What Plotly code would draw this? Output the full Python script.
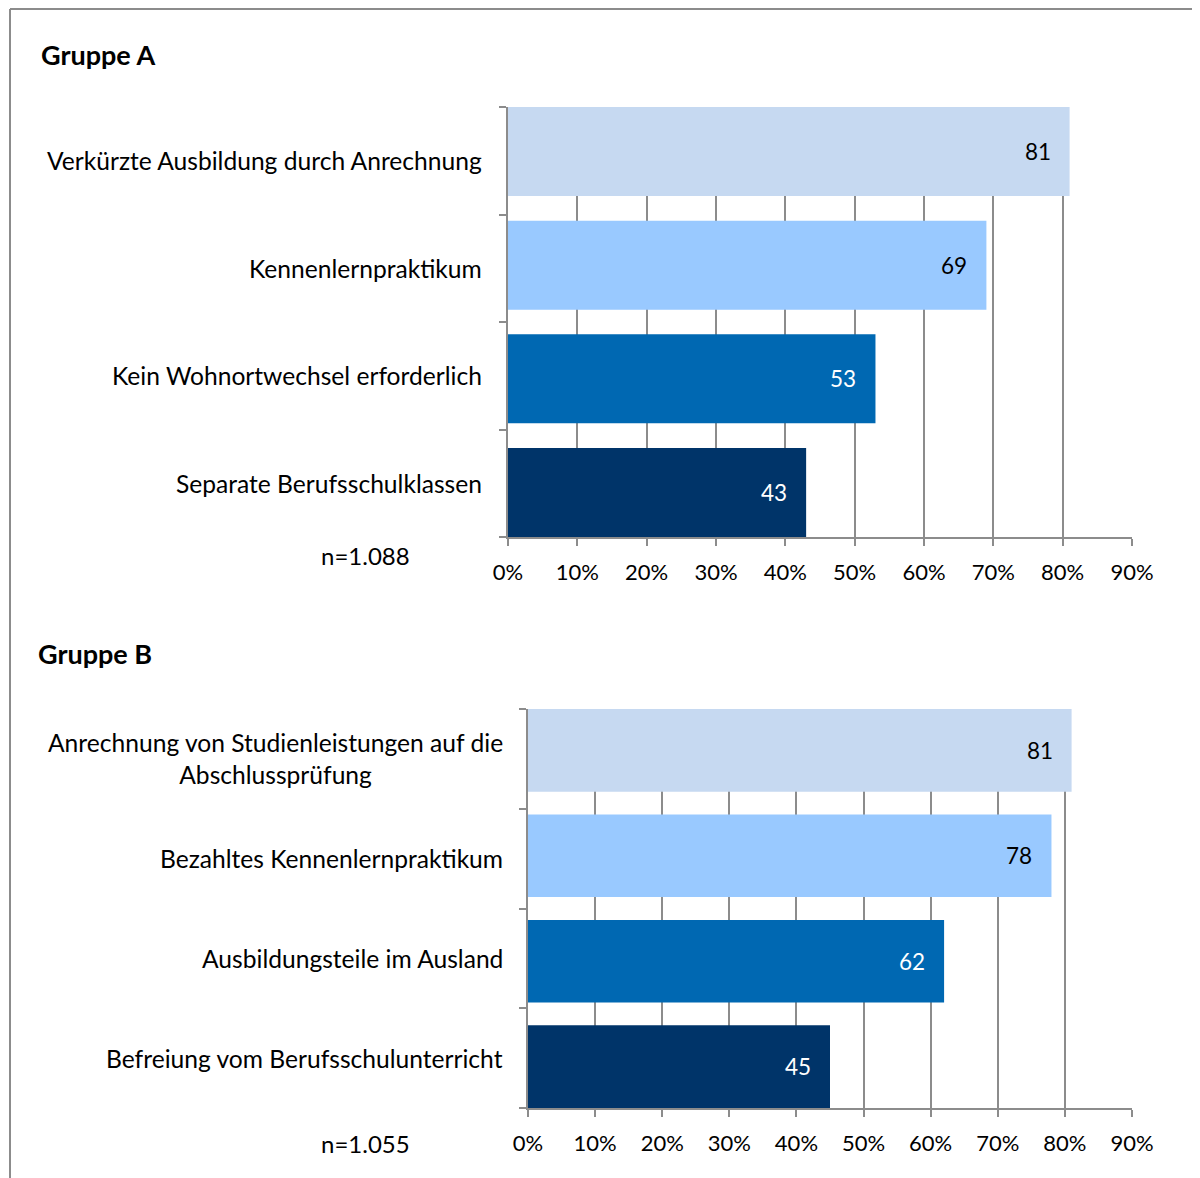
import plotly.graph_objects as go

# ---- data ----
cats_a = ["Verkürzte Ausbildung durch Anrechnung", "Kennenlernpraktikum",
          "Kein Wohnortwechsel erforderlich", "Separate Berufsschulklassen"]
vals_a = [81, 69, 53, 43]
n_a = "n=1.088"

cats_b = ["Anrechnung von Studienleistungen auf die<br>Abschlussprüfung",
          "Bezahltes Kennenlernpraktikum", "Ausbildungsteile im Ausland",
          "Befreiung vom Berufsschulunterricht"]
vals_b = [81, 78, 62, 45]
n_b = "n=1.055"

titles = ["Gruppe A", "Gruppe B"]
tick_vals = [0, 10, 20, 30, 40, 50, 60, 70, 80, 90]
tick_text = [f"{v}%" for v in tick_vals]

bar_colors = ["#C6D9F1", "#99C9FF", "#0068B2", "#003469"]
label_colors = ["#000000", "#000000", "#FFFFFF", "#FFFFFF"]

W, H = 1200, 1178
OFF = 8  # page body margin
FONT = "Lato"
GRID = "#8C8C8C"
BARGAP = 0.216


def px_x(x):
    return (x - OFF) / W


def px_y(y):
    return 1 - (y - OFF) / H


fig = go.Figure()

fig.add_trace(go.Bar(x=vals_a, y=cats_a, orientation="h",
                     marker=dict(color=bar_colors, line=dict(width=0)),
                     xaxis="x", yaxis="y", hoverinfo="skip"))
fig.add_trace(go.Bar(x=vals_b, y=cats_b, orientation="h",
                     marker=dict(color=bar_colors, line=dict(width=0)),
                     xaxis="x2", yaxis="y2", hoverinfo="skip"))

# y range: bars touch the top and bottom of the plot area (Excel style)
n_cat = len(cats_a)
half = (1 - BARGAP) / 2
y_lo, y_hi = -half, (n_cat - 1) + half
y_ticks = [y_lo + k * (y_hi - y_lo) / n_cat for k in range(n_cat + 1)]
slot_centers = [(y_ticks[k] + y_ticks[k + 1]) / 2 for k in range(n_cat)]

xax = dict(range=[0, 90], tickvals=tick_vals, ticktext=tick_text,
           showgrid=True, gridcolor=GRID, gridwidth=2,
           showline=True, linecolor=GRID, linewidth=2,
           ticks="outside", ticklen=7, tickwidth=2, tickcolor=GRID,
           ticklabelstandoff=8,
           tickfont=dict(family=FONT, size=22, color="#000"),
           zeroline=False, fixedrange=True, automargin=False)
yax = dict(type="category", range=[y_hi, y_lo],
           tickmode="array", tickvals=y_ticks, ticktext=[""] * len(y_ticks),
           showgrid=False, showline=True, linecolor=GRID, linewidth=2,
           ticks="outside", ticklen=7, tickwidth=2, tickcolor=GRID,
           showticklabels=False, zeroline=False, fixedrange=True, automargin=False)

fig.update_layout(
    width=W, height=H,
    margin=dict(l=0, r=0, t=0, b=0, autoexpand=False),
    paper_bgcolor="white", plot_bgcolor="white",
    showlegend=False, bargap=BARGAP,
    xaxis=dict(xax, domain=[px_x(508), px_x(1132)], anchor="y"),
    yaxis=dict(yax, domain=[px_y(537), px_y(107)], anchor="x"),
    xaxis2=dict(xax, domain=[px_x(528), px_x(1132)], anchor="y2"),
    yaxis2=dict(yax, domain=[px_y(1108), px_y(709)], anchor="x2"),
)

ann = []
for cats, vals, xr, yr, shift in [(cats_a, vals_a, "x", "y", -24),
                                  (cats_b, vals_b, "x2", "y2", -23)]:
    for i, (c, v) in enumerate(zip(cats, vals)):
        # category labels, centred in their tick slot
        ann.append(dict(text=c, x=0, y=slot_centers[i], xref=f"{xr} domain", yref=yr,
                        xanchor="right", yanchor="middle", xshift=shift,
                        align="center", showarrow=False,
                        font=dict(family=FONT, size=24.6, color="#000")))
        # value labels inside bar end
        ann.append(dict(text=str(v), x=v, y=c, xref=xr, yref=yr,
                        xanchor="right", yanchor="middle", xshift=-17,
                        showarrow=False,
                        font=dict(family=FONT, size=22.5, color=label_colors[i])))

# group titles
ann.append(dict(text=f"<b>{titles[0]}</b>", x=px_x(39), y=px_y(55), xref="paper", yref="paper",
                xanchor="left", yanchor="middle", showarrow=False,
                font=dict(family=FONT, size=27, color="#000")))
ann.append(dict(text=f"<b>{titles[1]}</b>", x=px_x(36), y=px_y(653), xref="paper", yref="paper",
                xanchor="left", yanchor="middle", showarrow=False,
                font=dict(family=FONT, size=27, color="#000")))
# n labels
ann.append(dict(text=n_a, x=px_x(412), y=px_y(555), xref="paper", yref="paper",
                xanchor="right", yanchor="middle", showarrow=False,
                font=dict(family=FONT, size=24, color="#000")))
ann.append(dict(text=n_b, x=px_x(412), y=px_y(1143), xref="paper", yref="paper",
                xanchor="right", yanchor="middle", showarrow=False,
                font=dict(family=FONT, size=24, color="#000")))
fig.update_layout(annotations=ann)

# outer frame lines (top and left)
fig.update_layout(shapes=[
    dict(type="line", xref="paper", yref="paper", x0=px_x(10), x1=1, y0=px_y(9), y1=px_y(9),
         line=dict(color="#8C8C8C", width=2)),
    dict(type="line", xref="paper", yref="paper", x0=px_x(10), x1=px_x(10), y0=px_y(9), y1=0,
         line=dict(color="#8C8C8C", width=2)),
])

fig.write_html("out.html")
